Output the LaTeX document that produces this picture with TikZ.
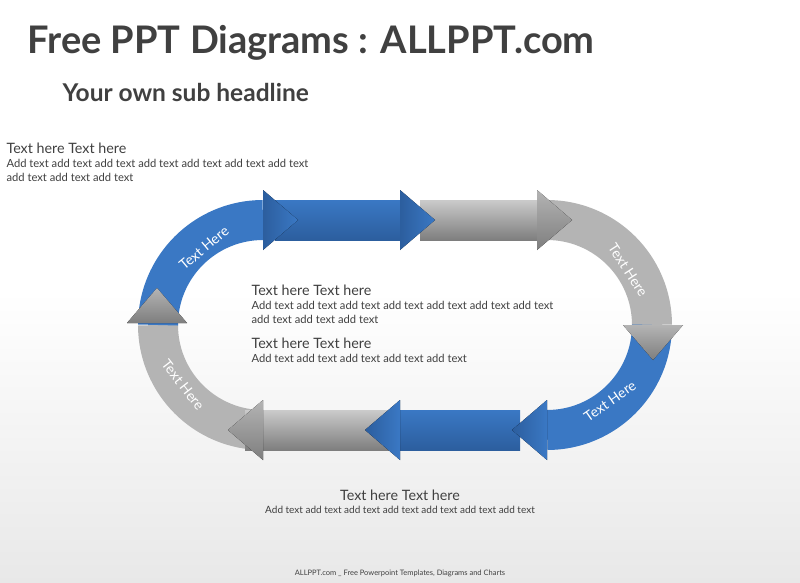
\documentclass[tikz,border=0pt]{standalone}
\usepackage{fontspec}
\setmainfont{Lato}
\usetikzlibrary{positioning}
\definecolor{pblue}{HTML}{3A78C4}
\definecolor{dblue}{HTML}{2C5E9E}
\definecolor{pgray}{HTML}{B4B4B4}
\definecolor{dgray}{HTML}{7E7E7E}
\definecolor{ink}{HTML}{404040}
\begin{document}
\begin{tikzpicture}[x=1pt, y=-1pt,
	bandblue/.style = {draw = pblue, line width = 40pt},
	bandgray/.style = {draw = pgray, line width = 40pt},
	barblue/.style = {top color = pblue, bottom color = dblue},
	bargray/.style = {top color = pgray!70, bottom color = dgray},
	headblue/.style = {left color = dblue, right color = pblue},
	headgray/.style = {top color = pgray, bottom color = dgray},
	arclabel/.style = {text = white, font = \fontsize{14}{16}\selectfont},
	heading/.style = {text = ink, anchor = north west, align = left},
	body/.style = {text = ink, font = \fontsize{11.2}{14}\selectfont, align = left}]
	% background
	\shade[top color = white, bottom color = gray!18, middle color = white] (0,0) rectangle (800,583);
	\useasboundingbox (0,0) rectangle (800,583);
	% titles
	\node[heading, font = \fontsize{38}{42}\selectfont\bfseries](title) at (24,22){Free PPT Diagrams : ALLPPT.com};
	\node[heading, font = \fontsize{24.5}{28}\selectfont\bfseries](sub) at (59,80){Your own sub headline};
	% loop bands
	\draw[bandgray] (547,220) arc[start angle = -90, end angle = 0, radius = 105];
	\draw[bandblue] (652,325) arc[start angle = 0, end angle = 90, radius = 105];
	\draw[bandgray] (263,430) arc[start angle = 90, end angle = 180, radius = 105];
	\draw[bandblue] (158,325) arc[start angle = 180, end angle = 270, radius = 105];
	\fill[barblue] (275,200) rectangle (405,240);
	\fill[bargray] (420,200) rectangle (545,240);
	\fill[barblue] (380,410) rectangle (520,450);
	\fill[bargray] (245,410) rectangle (390,450);
	% arrow heads
	\fill[headblue] (263,190) -- (298,220) -- (263,250) -- cycle;
	\fill[headblue] (400,190) -- (435,220) -- (400,250) -- cycle;
	\fill[headgray] (537,190) -- (572,220) -- (537,250) -- cycle;
	\fill[headgray] (623,325) -- (683,325) -- (653,360) -- cycle;
	\fill[headblue] (547,400) -- (512,430) -- (547,460) -- cycle;
	\fill[headblue] (400,400) -- (365,430) -- (400,460) -- cycle;
	\fill[headgray] (263,400) -- (228,430) -- (263,460) -- cycle;
	\fill[headgray] (127,323) -- (157,288) -- (187,323) -- cycle;
	% arc labels
	\node[arclabel, rotate = 40](lt) at (204,248){Text Here};
	\node[arclabel, rotate = -57](rt) at (628,270){Text Here};
	\node[arclabel, rotate = 35](rb) at (610,401){Text Here};
	\node[arclabel, rotate = -52](lb) at (183,385){Text Here};
	% texts
	\node[body, anchor = north west](t1) at (3,139){{\fontsize{14.3}{16}\selectfont Text here Text here}\\Add text add text add text add text add text add text add text\\add text add text add text};
	\node[body, anchor = north west](t2) at (248,281){{\fontsize{14.3}{16}\selectfont Text here Text here}\\Add text add text add text add text add text add text add text\\add text add text add text};
	\node[body, anchor = north west](t3) at (248,334){{\fontsize{14.3}{16}\selectfont Text here Text here}\\Add text add text add text add text add text};
	\node[body, align = center, anchor = north, font = \fontsize{10}{13}\selectfont](t4) at (400,486){{\fontsize{14.3}{16}\selectfont Text here Text here}\\Add text add text add text add text add text add text add text};
	\node[text = ink, font = \fontsize{7.5}{8}\selectfont](foot) at (400,573){ALLPPT.com \_ Free Powerpoint Templates, Diagrams and Charts};
\end{tikzpicture}
\end{document}
